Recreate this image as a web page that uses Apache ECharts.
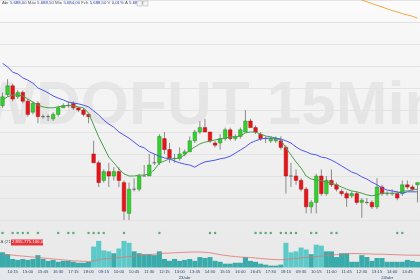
<!DOCTYPE html>
<html><head><meta charset="utf-8">
<script src="https://cdn.jsdelivr.net/npm/echarts@6/dist/echarts.min.js"></script>
<style>html,body{margin:0;padding:0;background:#f2f2f2;}#c{width:420px;height:280px;}</style>
</head><body><div id="c"></div>
<script>
const times = ['13:45','14:00','14:15','14:30','14:45','15:00','15:15','15:30','15:45','16:00','16:15','16:30','16:45','17:00','17:15','17:30','17:45','18:00','18:15',
'09:00','09:15','09:30','09:45','10:00','10:15','10:30','10:45','11:00','11:15','11:30','11:45','12:00','12:15','12:30','12:45','13:00','13:15','13:30','13:45','14:00','14:15','14:30','14:45','15:00','15:15','15:30','15:45','16:00','16:15','16:30','16:45','17:00','17:15','17:30','17:45','18:00','18:15',
'09:00','09:15','09:30','09:45','10:00','10:15','10:30','10:45','11:00','11:15','11:30','11:45','12:00','12:15','12:30','12:45','13:00','13:15','13:30','13:45','14:00','14:15','14:30','14:45','15:00','15:15'];
const opens  = [5706,5708.5,5710.5,5708,5709,5707,5704.5,5706.5,5703.5,5703.5,5703,5704,5705.5,5706,5706.5,5705.5,5705,5704,5695,5693,5689,5691,5690,5691,5688.5,5681.5,5687,5687,5690,5690,5693,5693,5698.5,5696,5694,5694,5695,5695.5,5698,5700,5701,5700,5697.5,5697.5,5698.5,5700.5,5698.5,5699,5700,5702.5,5701,5699.5,5698.5,5698,5698,5698,5696.5,5690,5690,5689,5687,5683,5684,5690,5686,5689,5688,5686.5,5686,5685.5,5686,5684,5684,5684,5683,5687.5,5686,5686,5686,5686,5688,5687.5,5688];
const closes = [5708,5710.5,5707.5,5709,5707,5704,5706.5,5703.5,5703.5,5703.5,5704,5705.5,5706,5706,5705.5,5705,5704,5703.5,5693,5688.5,5691,5690,5691,5689,5682,5687,5687,5690,5690,5692.5,5693,5699,5696,5694,5694,5695,5695.5,5698,5700,5701,5700,5698,5697,5698.5,5700.5,5698.5,5699,5700.5,5702.5,5701,5700,5698.5,5698.5,5698.5,5698.5,5696.5,5690,5690,5689,5687,5683,5684,5690,5686,5689,5688,5687,5686,5685,5686,5684,5684.5,5684,5683,5687.5,5686,5686,5686,5685,5688,5687.5,5687,5688.5];
const lows   = [5705.5,5708,5707,5707.5,5706.5,5703.5,5704,5702,5703,5702.5,5702.5,5703.5,5705.5,5705.5,5705,5704.5,5703.5,5702,5693,5687.5,5688.5,5687.5,5689,5687.5,5680,5680,5686.5,5686.5,5690,5690,5692.5,5692.5,5695,5693,5693,5693.5,5694.5,5695.5,5697.5,5699.5,5700,5697.5,5696.5,5696,5698,5698,5698,5698.5,5700,5701,5699.5,5698,5697.5,5697.5,5697.5,5696,5686,5687.5,5688,5686.5,5681.5,5681.5,5681.5,5685.5,5685.5,5687.5,5686.5,5685.5,5683,5685,5683.5,5680.5,5683.5,5682.5,5682.5,5685.5,5685.5,5685.5,5684.5,5685.5,5687,5686.5,5684];
const highs  = [5709,5712,5711,5709.5,5709.5,5707.5,5707,5707,5704,5704,5704.5,5706,5706.5,5707,5707,5705.5,5705.5,5704,5698,5693.5,5691.5,5693,5692,5692,5689,5688.5,5689.5,5690.5,5692.5,5695,5695,5699.5,5700,5697.5,5695,5696.5,5696,5699,5700.5,5702.5,5703,5700,5698,5699.5,5701,5701,5699.5,5701,5705,5703,5701.5,5700,5699,5699,5699,5699,5697,5693,5691.5,5689.5,5687.5,5684.5,5690.5,5691.5,5690,5691.5,5688.5,5687,5686.5,5686.5,5686.5,5685,5685,5684.5,5689.5,5688,5686.5,5687,5686.5,5689,5689,5688,5688.5];
const maFast = [5707.3,5708.0,5708.4,5708.4,5708.2,5707.5,5706.8,5706.1,5705.7,5705.5,5705.5,5705.7,5705.9,5706.1,5705.9,5705.7,5705.5,5704.3,5701.6,5698.9,5696.6,5694.3,5693.0,5691.6,5690.5,5690.0,5690.0,5690.2,5690.2,5690.5,5691.4,5693.0,5693.4,5693.9,5693.9,5694.1,5694.8,5695.9,5696.6,5697.3,5697.7,5697.9,5698.2,5698.4,5698.6,5698.9,5698.9,5699.1,5699.8,5700.0,5700.0,5699.5,5699.1,5698.9,5698.6,5698.2,5696.4,5694.8,5693.2,5691.8,5690.0,5689.3,5689.1,5688.9,5688.6,5688.4,5688.0,5687.5,5687.0,5686.6,5686.4,5686.1,5685.7,5685.5,5685.7,5686.1,5686.1,5686.1,5686.1,5686.6,5686.6,5686.8,5687.0];
const maMid = [5715.6,5714.8,5713.6,5713.2,5712.3,5711.8,5711.1,5710.0,5709.5,5708.9,5708.2,5707.7,5707.3,5706.8,5706.6,5706.4,5706.1,5705.7,5704.8,5703.9,5702.7,5701.8,5701.1,5700.0,5699.3,5698.6,5697.7,5696.8,5696.4,5695.5,5695.0,5694.5,5694.1,5693.9,5693.4,5693.0,5692.7,5692.5,5692.0,5692.7,5693.2,5693.4,5693.6,5693.9,5694.1,5694.5,5695.2,5695.9,5696.6,5697.5,5698.0,5698.4,5698.6,5698.6,5698.6,5698.4,5698.0,5697.5,5696.6,5695.9,5695.5,5695.0,5694.8,5694.3,5694.1,5693.6,5693.0,5692.3,5691.6,5690.9,5690.5,5689.8,5689.3,5688.6,5688.0,5687.3,5686.8,5686.6,5686.4,5686.1,5686.4,5686.4,5686.4];
const maSlow = [null,null,null,null,null,null,null,null,null,null,null,null,null,null,null,null,null,null,null,null,null,null,null,null,null,null,null,null,null,null,null,null,null,null,null,null,null,null,null,null,null,null,null,null,null,null,null,null,null,null,null,null,null,null,null,null,null,null,null,null,null,null,null,null,null,null,null,null,5731.4,5730.9,5730.5,5730.0,5729.6,5729.2,5728.8,5728.4,5728.0,5727.6,5727.3,5726.9,5726.6,5726.3,5725.9];
const volumes = [16,14,9,8,9,8,9,13,9,7,8,6,7,7,6,5,5,6,22,28,18,17,15,20,28,26,17,15,14,14,13,17,9,7,9,7,8,9,7,11,10,11,7,6,4,4,5,5,11,7,6,4,3,2,2,3,26,16,17,21,19,14,24,23,17,17,11,15,15,6,6,13,11,7,10,10,6,6,6,6,8,7,6];
const volMA = [14,13.5,13,12.5,12,11.5,11,10.5,10,9.5,9,8.5,8,7.5,7,6.8,6.5,6.3,7,8,9,9.5,10,10.5,11,11.5,12,12.5,13,13.5,14,14.5,15,15.2,15.5,15.7,16,16.2,16.3,16.3,16,15.5,14.5,13.5,12.8,12,11.5,11,10.7,10.5,10,9.5,9,8.6,8.3,8.2,8.3,9,9.5,10,10.5,11,11.5,12,12.5,13,13.5,14,14.3,14.7,14.7,14.5,14.3,14.2,14,14,13.8,13.6,13.4,13.2,13,13,12.9,12.8];
const signalIdx = [0,2,3,4,5,7,11,13,14,17,18,19,20,24,31,41,42,50,51,52,53,55,56,57,58,61,62,65,66,78,79];
const dateLabels = {36:'23/abr', 76:'24/abr'};
const priceTicks = {min:5680, max:5730, step:5};
const header = [['Abr','5.688,00'],['Máx','5.688,50'],['Mín','5.684,00'],['Fch','5.688,50'],['V','0,01%'],['A','5.688,67']];
const volLabel = ['A (21)','2.855.775.100,00'];
const watermark = 'WDOFUT 15Min';

const candleData = times.map((t,i)=>[i, opens[i], closes[i], lows[i], highs[i]]);
const chart = echarts.init(document.getElementById('c'), null, {renderer:'canvas'});
const L = -2.25, R = -1.05;
const headerRich = header.map(h => '{l|'+h[0]+'} {v|'+h[1]+'}').join(' ');
chart.setOption({
  animation:false,
  backgroundColor:{type:'linear',x:0,y:0,x2:0,y2:1,colorStops:[{offset:0,color:'#fcfcfc'},{offset:0.08,color:'#f8f8f8'},{offset:0.5,color:'#f1f1f1'},{offset:0.8,color:'#ebebeb'},{offset:1,color:'#e8e8e8'}]},
  graphic:[
    {type:'text', left:'center', x:0, style:{text:watermark, x:197, y:107, font:'bold 62px "Liberation Sans", Arial, sans-serif', fill:'rgba(0,0,0,0.055)', align:'center', verticalAlign:'middle'}, z:-5, silent:true, position:[0,0]},
    {type:'rect', shape:{x:0,y:269,width:420,height:11}, style:{fill:'#e4e7eb'}, z:-10},
    {type:'text', z:100, style:{x:2, y:1, text:headerRich, rich:{l:{fontSize:4.3,fill:'#555',fontFamily:'Liberation Sans'},v:{fontSize:4.3,fill:'#2b3fa8',fontFamily:'Liberation Sans'}}, fontSize:4.3}},
    {type:'rect', z:100, shape:{x:137,y:1,width:5,height:5}, style:{fill:'#f4f4f4',stroke:'#bbb',lineWidth:0.6}},
    {type:'rect', z:100, shape:{x:143,y:1,width:5,height:5}, style:{fill:'#f4f4f4',stroke:'#bbb',lineWidth:0.6}},
    {type:'text', z:100, style:{x:0.5, y:240, text:volLabel[0], fontSize:4.3, fill:'#555', fontFamily:'Liberation Sans'}},
    {type:'rect', z:99, shape:{x:11,y:239.5,width:32,height:6}, style:{fill:'#e8333a'}},
    {type:'text', z:100, style:{x:12, y:240.3, text:volLabel[1], fontSize:4.3, fill:'#fff', fontFamily:'Liberation Sans'}}
  ],
  grid:[
    {left:L, right:R, top:0, height:220},
    {left:L, right:R, top:228, height:10},
    {left:L, right:R, top:239, height:30}
  ],
  xAxis:[
    {type:'category', data:times, gridIndex:0, show:false},
    {type:'category', data:times, gridIndex:1, show:false},
    {type:'category', data:times, gridIndex:2, axisLine:{show:false}, axisTick:{show:false},
      axisLabel:{interval:(i)=> i%3===2, fontSize:4.2, color:'#2b4a72', margin:2.5, fontFamily:'Liberation Sans'}},
    {type:'category', data:times, gridIndex:2, position:'bottom', offset:6, axisLine:{show:false}, axisTick:{show:false},
      axisLabel:{interval:(i)=> dateLabels[i]!==undefined, formatter:(v,i)=>dateLabels[i]||'', fontSize:4.2, color:'#2b4a72', margin:2.5, fontFamily:'Liberation Sans'}}
  ],
  yAxis:[
    {type:'value', gridIndex:0, min:priceTicks.min, max:priceTicks.max, interval:priceTicks.step, axisLabel:{show:false}, axisLine:{show:false}, axisTick:{show:false}, splitLine:{lineStyle:{color:'#e3e3e3', width:1}}},
    {type:'value', gridIndex:1, min:0, max:2, show:false},
    {type:'value', gridIndex:2, min:0, max:30, show:false}
  ],
  series:[
    {type:'custom', xAxisIndex:0, yAxisIndex:0, data:candleData, encode:{x:0, y:[1,2,3,4]}, z:3,
      renderItem:(params, api)=>{
        const i=api.value(0), o=api.value(1), c=api.value(2), lo=api.value(3), hi=api.value(4);
        const pO=api.coord([i,o]), pC=api.coord([i,c]), pL=api.coord([i,lo]), pH=api.coord([i,hi]);
        const w=api.size([1,0])[0]*0.7;
        const children=[{type:'line', shape:{x1:pO[0],y1:pH[1],x2:pO[0],y2:pL[1]}, style:{stroke:'#8a8a8a', lineWidth:1}}];
        if (c===o) {
          children.push({type:'line', shape:{x1:pO[0]-w/2,y1:pO[1],x2:pO[0]+w/2,y2:pO[1]}, style:{stroke:'#666', lineWidth:1}});
        } else {
          const up=c>o;
          const top=Math.min(pO[1],pC[1]), h=Math.max(Math.abs(pO[1]-pC[1]),1);
          children.push({type:'rect', shape:{x:pO[0]-w/2,y:top,width:w,height:h}, style:{fill:up?'#33d12e':'#e8141a', stroke:up?'#2a8f26':'#a8161a', lineWidth:0.5}});
        }
        return {type:'group', children};
      }},
    {type:'line', xAxisIndex:0, yAxisIndex:0, data:maFast, symbol:'none', lineStyle:{color:'#4aa04a', width:1}, z:4},
    {type:'line', xAxisIndex:0, yAxisIndex:0, data:maMid, symbol:'none', lineStyle:{color:'#4f55f0', width:1}, z:4},
    {type:'line', xAxisIndex:0, yAxisIndex:0, data:maSlow, symbol:'none', lineStyle:{color:'#f5a445', width:1}, z:4},
    {type:'scatter', xAxisIndex:1, yAxisIndex:1, data:signalIdx.map(i=>[i,1]), symbol:'rect', symbolSize:2.2, itemStyle:{color:'#3d9a5c'}},
    {type:'bar', xAxisIndex:2, yAxisIndex:2, data:volumes, barCategoryGap:'0%', barGap:'0%',
      itemStyle:{color:(p)=> volumes[p.dataIndex] > volMA[p.dataIndex]*1.6 ? '#5ec9c9' : '#3aabab'}},
    {type:'line', xAxisIndex:2, yAxisIndex:2, data:volMA, symbol:'none', lineStyle:{color:'#e07575', width:0.8}, z:5}
  ]
});
</script></body></html>
